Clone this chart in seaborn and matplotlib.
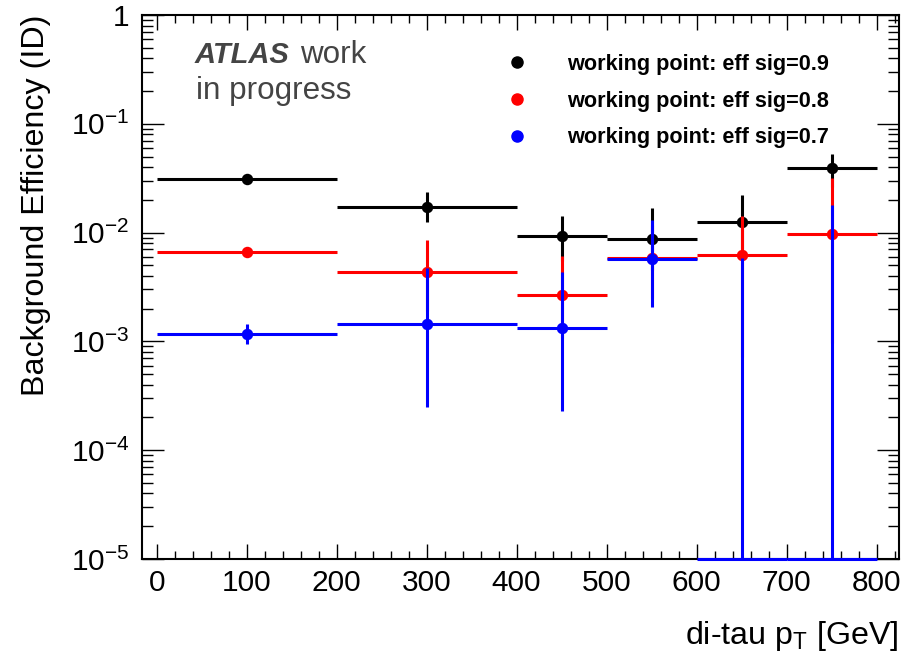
import numpy as np
import pandas as pd
import matplotlib
matplotlib.use("Agg")
import matplotlib.pyplot as plt
import seaborn as sns
from matplotlib.ticker import MultipleLocator, LogLocator, NullFormatter, FuncFormatter
from matplotlib.lines import Line2D

# ---------------- data ----------------
bin_edges = [0, 200, 400, 500, 600, 700, 800]
series_labels = ["working point: eff sig=0.9",
                 "working point: eff sig=0.8",
                 "working point: eff sig=0.7"]
series_colors = ["#000000", "#ff0000", "#0000ff"]

eff_09 = [0.0311, 0.0173, 0.0093, 0.0087, 0.0126, 0.0390]
eff_09_up = [0.0010, 0.0065, 0.0050, 0.0082, 0.0096, 0.0138]
eff_09_dn = [0.0010, 0.0049, 0.0038, 0.0042, 0.0056, 0.0130]

eff_08 = [0.00663, 0.00432, 0.00267, 0.0058, 0.00622, 0.00977]
eff_08_up = [0.0004, 0.0042, 0.0034, 0.0060, 0.0080, 0.0217]
eff_08_dn = [0.0004, 0.0024, 0.0016, 0.0033, 0.0055, 0.0088]

eff_07 = [0.00116, 0.00144, 0.00132, 0.00576, 0.0, 0.0]
eff_07_up = [0.00028, 0.00326, 0.00305, 0.0074, 0.0058, 0.0179]
eff_07_dn = [0.00022, 0.00119, 0.00109, 0.0037, 0.0, 0.0]

series = [(eff_09, eff_09_up, eff_09_dn),
          (eff_08, eff_08_up, eff_08_dn),
          (eff_07, eff_07_up, eff_07_dn)]

# ---------------- style ----------------
sns.set_theme(style="ticks")
plt.rcParams["font.family"] = ["Liberation Sans", "DejaVu Sans"]
plt.rcParams["mathtext.fontset"] = "custom"
plt.rcParams["mathtext.rm"] = "Liberation Sans"
plt.rcParams["mathtext.it"] = "Liberation Sans:italic"
plt.rcParams["mathtext.bf"] = "Liberation Sans:bold"
for key in ["text.color", "axes.labelcolor", "xtick.color", "ytick.color",
            "xtick.labelcolor", "ytick.labelcolor", "axes.edgecolor"]:
    plt.rcParams[key] = "black"

W, H = 916, 657
fig = plt.figure(figsize=(W / 100, H / 100), dpi=100)
L, R, T, B = 142, 899, 15, 559
ax = fig.add_axes([L / W, 1 - B / H, (R - L) / W, (B - T) / H])

ymin, ymax = 1e-5, 1.0
ax.set_yscale("log")
ax.set_xlim(-16.3, 825)
ax.set_ylim(ymin, ymax)

edges = np.array(bin_edges, dtype=float)
xc = 0.5 * (edges[:-1] + edges[1:])
xw = 0.5 * (edges[1:] - edges[:-1])

for k, (vals, up, dn) in enumerate(series):
    v = np.array(vals, dtype=float)
    up = np.array(up, dtype=float)
    dn = np.array(dn, dtype=float)
    y = np.where(v > 0, v, ymin)
    lo = np.minimum(dn, y - ymin)
    cont = ax.errorbar(xc, y, xerr=xw, yerr=[lo, up], fmt="none",
                       ecolor=series_colors[k], elinewidth=2.2, capsize=0,
                       zorder=3 + 2 * k)
    for art in cont.lines[2]:
        art.set_clip_on(False)
    df = pd.DataFrame({"x": xc[v > 0], "y": v[v > 0]})
    sns.scatterplot(data=df, x="x", y="y", color=series_colors[k], s=68,
                    linewidth=0, zorder=4 + 2 * k, ax=ax, legend=False,
                    clip_on=False)

# ---------------- axes ----------------
ax.xaxis.set_major_locator(MultipleLocator(100))
ax.xaxis.set_minor_locator(MultipleLocator(20))
ax.yaxis.set_major_locator(LogLocator(base=10, numticks=10))
ax.yaxis.set_minor_locator(LogLocator(base=10, subs=np.arange(2, 10), numticks=100))
ax.yaxis.set_minor_formatter(NullFormatter())


def yfmt(val, pos):
    e = int(round(np.log10(val)))
    if e == 0:
        return "1"
    return r"$\mathregular{10^{%d}}$" % e


ax.yaxis.set_major_formatter(FuncFormatter(yfmt))

ax.tick_params(which="both", direction="in", top=True, right=True, color="black")
ax.tick_params(axis="x", which="major", length=10.8, width=1.0, labelsize=21.5, pad=7)
ax.tick_params(axis="x", which="minor", length=5.5, width=1.0)
ax.tick_params(axis="y", which="major", length=15.8, width=1.0, labelsize=21.5, pad=9)
ax.tick_params(axis="y", which="minor", length=7.9, width=1.0)
for sp in ax.spines.values():
    sp.set_linewidth(1.5)
    sp.set_color("black")

ax.set_xlabel(r"di-tau $\mathregular{p_{T}}$ [GeV]", loc="right", fontsize=23.2)
ax.xaxis.set_label_coords(1.0, (B - 619) / (B - T))
ax.set_ylabel("Background Efficiency (ID)", loc="top", fontsize=23.2)
ax.yaxis.set_label_coords((51 - L) / (R - L), 1.0)

# ---------------- legend ----------------
handles = [Line2D([], [], marker="o", ls="none", color=c, markersize=8.0)
           for c in series_colors]
fs_leg = 15.6
leg = ax.legend(handles, series_labels, loc="upper left",
                bbox_to_anchor=(495 / W, 1 - 54 / H), bbox_transform=fig.transFigure,
                frameon=False, prop={"weight": "bold", "size": fs_leg},
                handlelength=2.0, handletextpad=1.31, labelspacing=0.72,
                borderpad=0, borderaxespad=0)
for t in leg.get_texts():
    t.set_color("black")

# ---------------- ATLAS label ----------------
fs_atlas = 22.6
fig.text(195 / W, 1 - 63 / H, "ATLAS", fontsize=21.0, fontweight="bold",
         fontstyle="italic", color="#444444", va="baseline", ha="left")
fig.text(300 / W, 1 - 63 / H, "work", fontsize=fs_atlas, color="#444444",
         va="baseline", ha="left")
fig.text(196 / W, 1 - 99 / H, "in progress", fontsize=fs_atlas, color="#444444",
         va="baseline", ha="left")

fig.savefig("out.png", dpi=100, facecolor="white")
